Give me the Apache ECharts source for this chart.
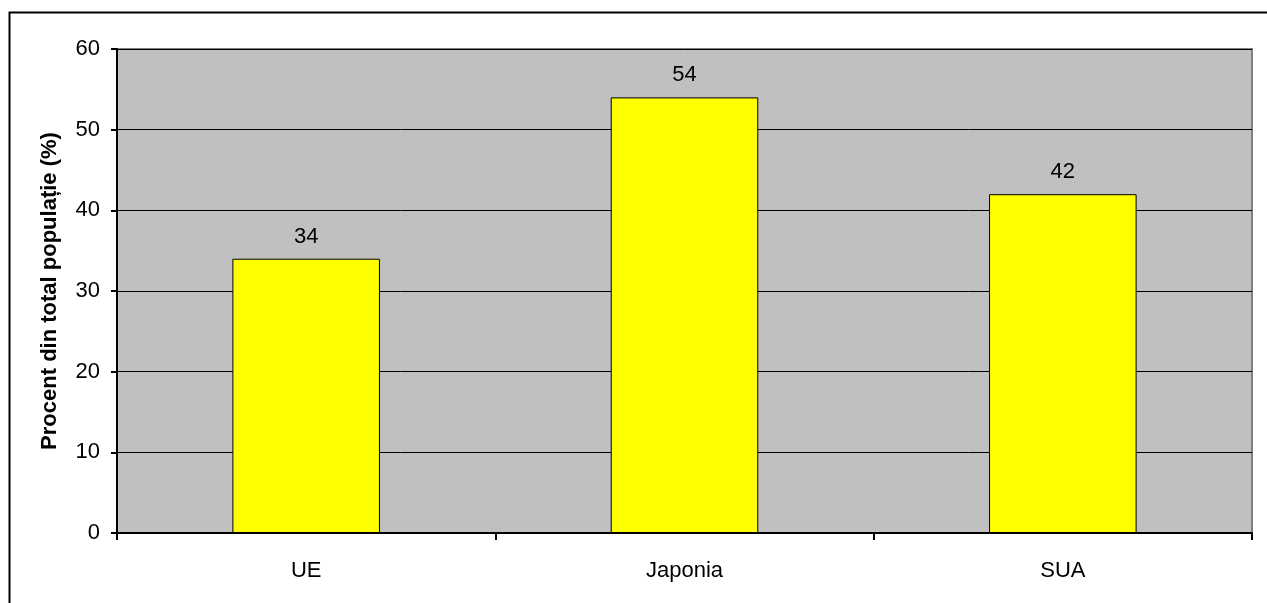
<!DOCTYPE html>
<html>
<head>
<meta charset="utf-8">
<script src="https://cdn.jsdelivr.net/npm/echarts@6/dist/echarts.min.js"></script>
<style>html,body{margin:0;padding:0;background:#fff}#c{width:1267px;height:603px}</style>
</head>
<body>
<div id="c"></div>
<script>
const categories = ['UE', 'Japonia', 'SUA'];
const values = [34, 54, 42];
const yTitle = 'Procent din total populație (%)';

const chart = echarts.init(document.getElementById('c'), null, {renderer: 'canvas'});
chart.setOption({
  animation: false,
  backgroundColor: '#ffffff',
  graphic: [{
    type: 'rect', left: 7, top: 10, z: -10,
    shape: {width: 1300, height: 700},
    style: {fill: 'none', stroke: '#000', lineWidth: 2}
  }],
  grid: {
    left: 117, top: 49, right: 15, bottom: 70,
    show: true, backgroundColor: '#c0c0c0', borderColor: '#808080', borderWidth: 2
  },
  xAxis: {
    type: 'category', data: categories,
    axisLine: {show: true, lineStyle: {color: '#000', width: 2}},
    axisTick: {show: true, length: 7, lineStyle: {color: '#000', width: 2}},
    axisLabel: {color: '#000', fontSize: 22, fontFamily: 'Liberation Sans, Arial', margin: 27},
    splitLine: {show: false}
  },
  yAxis: {
    type: 'value', min: 0, max: 60, interval: 10,
    name: yTitle, nameLocation: 'middle', nameGap: 56, nameRotate: 90,
    nameTextStyle: {color: '#000', fontSize: 22, fontWeight: 'bold', fontFamily: 'Liberation Sans, Arial'},
    axisLine: {show: true, lineStyle: {color: '#000', width: 2}},
    axisTick: {show: true, length: 6, lineStyle: {color: '#000', width: 2}},
    axisLabel: {color: '#000', fontSize: 22, fontFamily: 'Liberation Sans, Arial', margin: 17},
    splitLine: {show: true, lineStyle: {color: '#000', width: 1}}
  },
  series: [{
    type: 'bar', data: values, barWidth: '39%',
    itemStyle: {color: '#ffff00', borderColor: '#000', borderWidth: 1},
    label: {show: true, position: 'top', distance: 11, color: '#000', fontSize: 22, fontFamily: 'Liberation Sans, Arial'}
  }]
});
</script>
</body>
</html>
